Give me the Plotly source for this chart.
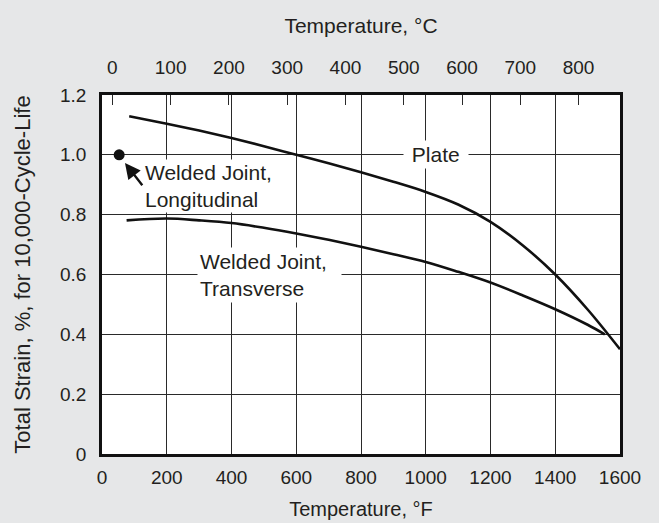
import plotly.graph_objects as go

# ---- data ----
plate_F = [84, 200, 300, 400, 500, 600, 700, 800, 900, 1000, 1100, 1200, 1300, 1400, 1500, 1600]
plate_strain = [1.129, 1.104, 1.081, 1.056, 1.029, 1.0, 0.972, 0.942, 0.91, 0.876,
                0.834, 0.776, 0.697, 0.60, 0.483, 0.35]

transverse_F = [76, 200, 300, 400, 500, 600, 700, 800, 900, 1000, 1100, 1200, 1300, 1400, 1500, 1553]
transverse_strain = [0.781, 0.787, 0.781, 0.772, 0.756, 0.737, 0.716, 0.693, 0.668, 0.642,
                     0.609, 0.573, 0.53, 0.484, 0.432, 0.40]

longitudinal_F = [53]
longitudinal_strain = [1.0]

f_ticks = [0, 200, 400, 600, 800, 1000, 1200, 1400, 1600]
strain_ticks = [0, 0.2, 0.4, 0.6, 0.8, 1.0, 1.2]
strain_labels = ["0", "0.2", "0.4", "0.6", "0.8", "1.0", "1.2"]
c_ticks = [0, 100, 200, 300, 400, 500, 600, 700, 800]

FONT = "Liberation Sans, Arial, Helvetica, sans-serif"
TXT = "#231f20"
GRID = "#2a2a2a"
BG = "#e6e7e8"

fig = go.Figure()
fig.add_trace(go.Scatter(x=plate_F, y=plate_strain, mode="lines",
                         line=dict(color="#111", width=2.6, shape="spline", smoothing=1.0),
                         showlegend=False, hoverinfo="skip"))
fig.add_trace(go.Scatter(x=transverse_F, y=transverse_strain, mode="lines",
                         line=dict(color="#111", width=2.6, shape="spline", smoothing=1.0),
                         showlegend=False, hoverinfo="skip"))
fig.add_trace(go.Scatter(x=longitudinal_F, y=longitudinal_strain, mode="markers",
                         marker=dict(color="#111", size=11),
                         showlegend=False, hoverinfo="skip"))
# invisible trace for the top (°C) axis
fig.add_trace(go.Scatter(x=[0, 1600], y=[0, 0], xaxis="x2", mode="lines",
                         line=dict(width=0), showlegend=False, hoverinfo="skip"))

c_in_f = [c * 9 / 5 + 32 for c in c_ticks]

fig.update_layout(
    width=659, height=523,
    paper_bgcolor=BG, plot_bgcolor="white",
    margin=dict(l=102, r=39, t=95, b=69),
    font=dict(family=FONT, size=19, color=TXT),
    xaxis=dict(range=[0, 1600], tickvals=f_ticks, ticks="", showgrid=True,
               gridcolor=GRID, gridwidth=1.2, showline=True, linecolor="#111",
               linewidth=2.6, mirror=True, zeroline=False, automargin=False,
               ticklabelstandoff=4,
               title=dict(text="Temperature, °F", standoff=16,
                          font=dict(size=20))),
    xaxis2=dict(range=[0, 1600], overlaying="x", side="top", tickvals=c_in_f,
                ticktext=[str(c) for c in c_ticks], ticks="inside", ticklen=10,
                tickwidth=1.2, tickcolor=GRID, showgrid=False, zeroline=False,
                showline=False, ticklabelstandoff=16, automargin=False,
                title=dict(text="Temperature, °C", standoff=17,
                           font=dict(size=21))),
    yaxis=dict(range=[0, 1.2], tickvals=strain_ticks, ticktext=strain_labels,
               ticks="", showgrid=True, gridcolor=GRID, gridwidth=1.2,
               showline=True, linecolor="#111", linewidth=2.6, mirror=True,
               zeroline=False, ticklabelstandoff=9, automargin=False,
               title=dict(text="Total Strain, %, for 10,000-Cycle-Life",
                          standoff=24, font=dict(size=22))),
)

ann_font = dict(family=FONT, size=21, color=TXT)
fig.add_annotation(x=1032, y=1.0, text="\u00a0Plate\u00a0", showarrow=False,
                   bgcolor="white", borderpad=2, font=ann_font)
fig.add_annotation(x=293, y=0.6, xanchor="left",
                   text="Welded Joint,\u00a0\u00a0<br>Transverse", align="left",
                   showarrow=False, bgcolor="white", borderpad=2, font=ann_font)
fig.add_annotation(x=128, y=0.895, xanchor="left",
                   text="Welded Joint,<br>Longitudinal", align="left",
                   showarrow=False, bgcolor="white", borderpad=1, font=ann_font)
fig.add_annotation(x=71, y=0.973, ax=128, ay=0.893, axref="x", ayref="y",
                   text="", showarrow=True, arrowhead=2, arrowsize=1.3,
                   arrowwidth=2.4, arrowcolor="#111", standoff=0)

fig.write_html("out.html", config={"displayModeBar": False},
               post_script="document.body.style.margin='0';"
                           "document.body.style.background='%s';" % BG)
